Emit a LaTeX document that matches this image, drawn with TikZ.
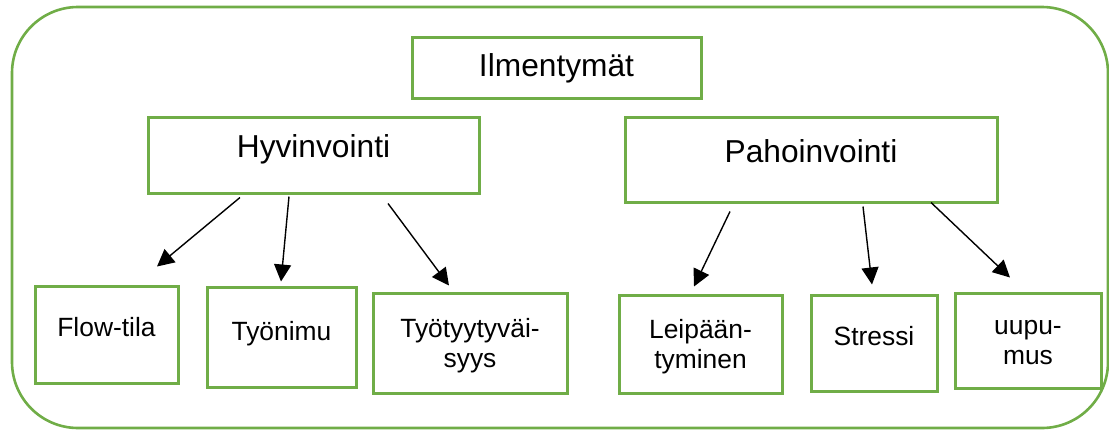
\documentclass[tikz,border=0pt]{standalone}
\usepackage{fontspec}
\setmainfont{Liberation Sans}
\usetikzlibrary{arrows.meta,calc}
\definecolor{kehys}{HTML}{70AD47}

\begin{document}
\begin{tikzpicture}[
		x=0.5pt, y=-0.5pt,
		every node/.style={inner sep=2pt},
		laatikko/.style={draw=kehys, line width=1.5pt, align=center},
		iso/.style={laatikko, font=\fontsize{15.85}{19}\selectfont, text height=11.35pt},
		pieni/.style={laatikko, font=\fontsize{13.2}{15}\selectfont, text height=9.45pt},
		kaksi/.style={pieni, text height=24.45pt, text depth=0pt},
		nuoli/.style={-{Triangle[length=8.5pt, width=8.5pt]}, line width=0.7pt}
	]
	\useasboundingbox (0,0) rectangle (1109,429);
	\draw[kehys, line width=1.3pt, rounded corners=33pt] (12,7) rectangle (1108,428);

	\node[iso, text depth=2.5pt, minimum width=144.5pt, minimum height=30.5pt] (ilm) at (556.5,67.5) {Ilmentymät};
	\node[iso, text depth=9pt, minimum width=165.5pt, minimum height=38pt] (hyv) at (313.5,155) {Hyvinvointi};
	\node[iso, text depth=8.5pt, minimum width=186pt, minimum height=42.5pt] (pah) at (811,159.5) {Pahoinvointi};

	\node[pieni, text depth=7pt, minimum width=71.5pt, minimum height=48.5pt] (flow) at (106.5,334.5) {Flow-tila};
	\node[pieni, text depth=6pt, minimum width=74.5pt, minimum height=50pt] (tyonimu) at (281.5,337) {Työnimu};
	\node[kaksi, minimum width=97pt, minimum height=50pt] (tyyt) at (470,343) {Työtyytyväi-\\syys};
	\node[kaksi, minimum width=81.5pt, minimum height=49pt] (leip) at (700.5,344) {Leipään-\\tyminen};
	\node[pieni, text depth=6.5pt, minimum width=63pt, minimum height=48pt] (stressi) at (874,343) {Stressi};
	\node[kaksi, minimum width=73pt, minimum height=47.5pt] (uupu) at (1028,340.5) {uupu-\\mus};

	\draw[nuoli] ($(hyv.south)+(-73.5,3)$) -- ($(flow.north)+(50.5,-18)$);
	\draw[nuoli] ($(hyv.south)+(-24.5,2)$) -- ($(tyonimu.north)+(-0.5,-4)$);
	\draw[nuoli] ($(hyv.south)+(74.5,9)$) -- ($(tyyt.north)+(-21,-6)$);
	\draw[nuoli] ($(pah.south)+(-81,8)$) -- ($(leip.north)+(-6.5,-7)$);
	\draw[nuoli] ($(pah.south)+(52,3)$) -- ($(stressi.north)+(-2,-9)$);
	\draw[nuoli] ($(pah.south)+(120,-1)$) -- ($(uupu.north)+(-18,-14)$);
\end{tikzpicture}
\end{document}
